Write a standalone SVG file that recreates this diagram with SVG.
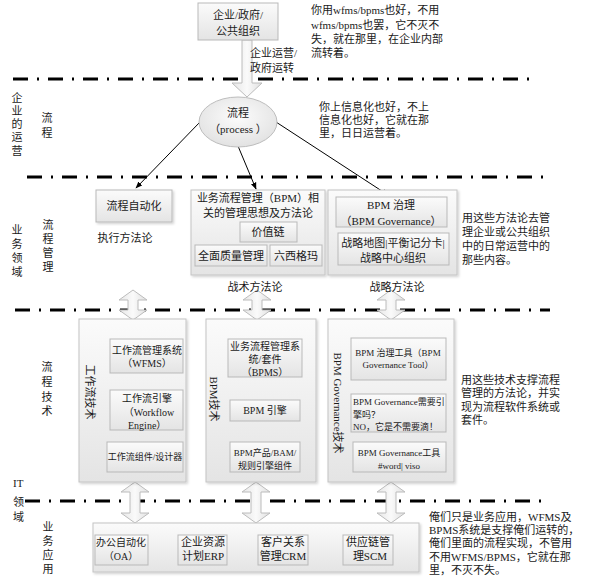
<svg xmlns="http://www.w3.org/2000/svg" width="590" height="583" viewBox="0 0 590 583">
<defs>
<linearGradient id="g" x1="0" y1="0" x2="0" y2="1"><stop offset="0" stop-color="#fbfbfb"/><stop offset="1" stop-color="#e4e4e4"/></linearGradient>
<linearGradient id="ga" x1="0" y1="0" x2="1" y2="0"><stop offset="0" stop-color="#e6e6e6"/><stop offset="0.5" stop-color="#fafafa"/><stop offset="1" stop-color="#e0e0e0"/></linearGradient>
<radialGradient id="ge" cx="0.5" cy="0.4" r="0.6"><stop offset="0" stop-color="#fcfcfc"/><stop offset="1" stop-color="#e2e2e2"/></radialGradient>
<filter id="sh" x="-5%" y="-5%" width="115%" height="115%"><feDropShadow dx="1.5" dy="1.5" stdDeviation="1" flood-color="#000" flood-opacity="0.18"/></filter>
<marker id="ah" viewBox="0 0 10 10" refX="9" refY="5" markerWidth="7" markerHeight="7" orient="auto"><path d="M0,1 L10,5 L0,9 Z" fill="#000"/></marker>
<style>
text{font-family:"Liberation Serif","Noto Sans CJK SC",serif;fill:#1a1a1a;font-size:11px}
.box{fill:url(#g);stroke:#b9b9b9;stroke-width:1}
.outer{fill:url(#g);stroke:#c4c4c4;stroke-width:1;filter:url(#sh)}
.dd{stroke:#000;stroke-width:3;stroke-dasharray:15 9 2 9;fill:none}
.c{text-anchor:middle}
.s{font-size:9px}
.m{font-size:10px}
.arr{fill:url(#ga);stroke:#bcbcbc;stroke-width:1}
.ln{stroke:#000;stroke-width:1;fill:none;marker-end:url(#ah)}
</style>
</defs>
<rect width="590" height="583" fill="#fff"/>

<g id="separators">
<line class="dd" x1="13" y1="79" x2="537" y2="79"/>
<line class="dd" x1="27" y1="177" x2="545" y2="177"/>
<line class="dd" x1="15" y1="310" x2="550" y2="310"/>
<line class="dd" x1="25" y1="501" x2="547" y2="501"/>
</g>

<g id="side-labels">
<text class="c" x="17"><tspan x="17" y="102">企</tspan><tspan x="17" y="115">业</tspan><tspan x="17" y="128">的</tspan><tspan x="17" y="141">运</tspan><tspan x="17" y="155">营</tspan></text>
<text class="c"><tspan x="47" y="122">流</tspan><tspan x="47" y="137">程</tspan></text>
<text class="c"><tspan x="17" y="234">业</tspan><tspan x="17" y="248">务</tspan><tspan x="17" y="262">领</tspan><tspan x="17" y="276">域</tspan></text>
<text class="c"><tspan x="48" y="229">流</tspan><tspan x="48" y="243">程</tspan><tspan x="48" y="257">管</tspan><tspan x="48" y="271">理</tspan></text>
<text class="c"><tspan x="47" y="371">流</tspan><tspan x="47" y="386">程</tspan><tspan x="47" y="401">技</tspan><tspan x="47" y="415">术</tspan></text>
<text><tspan x="13" y="487">IT</tspan><tspan x="13" y="506">领</tspan><tspan x="13" y="521">域</tspan></text>
<text class="c"><tspan x="48" y="531">业</tspan><tspan x="48" y="545">务</tspan><tspan x="48" y="559">应</tspan><tspan x="48" y="573">用</tspan></text>
</g>

<g id="connectors">
<path class="arr" d="M242,40 L252,40 L252,83 L262,83 L247,97 L232,83 L242,83 Z"/>
<line class="ln" x1="200" y1="122" x2="136" y2="188"/>
<line class="ln" x1="238" y1="146" x2="256" y2="189"/>
<line class="ln" x1="276" y1="122" x2="388" y2="195"/>
<path class="arr" d="M133,290 L147,300 L138,300 L138,310 L147,310 L133,320 L119,310 L128,310 L128,300 L119,300 Z"/>
<path class="arr" d="M257,290 L271,300 L262,300 L262,310 L271,310 L257,320 L243,310 L252,310 L252,300 L243,300 Z"/>
<path class="arr" d="M391,290 L405,300 L396,300 L396,310 L405,310 L391,320 L377,310 L386,310 L386,300 L377,300 Z"/>
<path class="arr" d="M135,482 L149,492 L140,492 L140,513 L149,513 L135,523 L121,513 L130,513 L130,492 L121,492 Z"/>
<path class="arr" d="M256,482 L270,492 L261,492 L261,513 L270,513 L256,523 L242,513 L251,513 L251,492 L242,492 Z"/>
<path class="arr" d="M391,482 L405,492 L396,492 L396,513 L405,513 L391,523 L377,513 L386,513 L386,492 L377,492 Z"/>
</g>

<g id="org">
<rect class="box" x="198" y="3" width="80" height="37"/>
<text class="c" x="238" y="19">企业/政府/</text>
<text class="c" x="238" y="35">公共组织</text>
</g>
<g id="org-label">
<text x="250" y="57">企业运营/</text>
<text x="250" y="72">政府运转</text>
</g>

<g id="process">
<ellipse cx="238" cy="122" rx="39" ry="25" fill="url(#ge)" stroke="#bdbdbd"/>
<text class="c" x="238" y="117">流程</text>
<text class="c" x="238" y="133">（process ）</text>
</g>

<g id="note-top">
<text x="311" y="14">你用wfms/bpms也好，不用</text>
<text x="311" y="29">wfms/bpms也罢，它不灭不</text>
<text x="311" y="43">失，就在那里，在企业内部</text>
<text x="311" y="57">流转着。</text>
</g>
<g id="note-process">
<text x="319" y="111">你上信息化也好，不上</text>
<text x="319" y="124">信息化也好，它就在那</text>
<text x="319" y="137">里，日日运营着。</text>
</g>

<g id="automation">
<rect class="box" x="96" y="190" width="76" height="32" style="filter:url(#sh)"/>
<text class="c" x="134" y="210">流程自动化</text>
<text class="c" x="125" y="242">执行方法论</text>
</g>

<g id="bpm-methods">
<rect class="outer" x="191" y="190" width="134" height="85"/>
<text class="c" x="258" y="202">业务流程管理（BPM）相</text>
<text class="c" x="258" y="217">关的管理思想及方法论</text>
<rect class="box" x="240" y="222" width="57" height="20"/>
<text class="c" x="268" y="236">价值链</text>
<rect class="box" x="195" y="245" width="72" height="21"/>
<text class="c" x="231" y="260">全面质量管理</text>
<rect class="box" x="270" y="245" width="52" height="21"/>
<text class="c" x="296" y="260">六西格玛</text>
<text class="c" x="255" y="291">战术方法论</text>
</g>

<g id="bpm-governance">
<rect class="outer" x="328" y="190" width="129" height="85"/>
<rect class="box" x="336" y="197" width="111" height="30"/>
<text class="c" x="391" y="209">BPM 治理</text>
<text class="c" x="391" y="225">（BPM Governance）</text>
<rect class="box" x="338" y="233" width="111" height="32"/>
<text class="c" x="393" y="247">战略地图|平衡记分卡|</text>
<text class="c" x="393" y="262">战略中心组织</text>
<text class="c" x="397" y="291">战略方法论</text>
</g>
<g id="note-methods">
<text x="462" y="222">用这些方法论去管</text>
<text x="462" y="236">理企业或公共组织</text>
<text x="462" y="250">中的日常运营中的</text>
<text x="462" y="264">那些内容。</text>
</g>

<g id="workflow-tech">
<rect class="outer" x="79" y="319" width="107" height="163"/>
<text class="c" transform="rotate(90 90 392)" x="90" y="396">工作流技术</text>
<rect class="box" x="110" y="339" width="73" height="34"/>
<text class="c m" x="147" y="354">工作流管理系统</text>
<text class="c m" x="147" y="367">（WFMS）</text>
<rect class="box" x="110" y="390" width="73" height="40"/>
<text class="c m" x="147" y="402">工作流引擎</text>
<text class="c m" x="149" y="416">（Workflow</text>
<text class="m" x="128" y="429">Engine）</text>
<rect class="box" x="107" y="442" width="76" height="30"/>
<text class="c s" x="145" y="460">工作流组件/设计器</text>
</g>

<g id="bpm-tech">
<rect class="outer" x="206" y="319" width="110" height="163"/>
<text class="c" transform="rotate(90 214 399)" x="214" y="403">BPM技术</text>
<rect class="box" x="228" y="339" width="74" height="38"/>
<text class="c m" x="265" y="350">业务流程管理系</text>
<text class="c m" x="265" y="363">统/套件</text>
<text class="c m" x="265" y="376">（BPMS）</text>
<rect class="box" x="230" y="400" width="70" height="21"/>
<text class="c m" x="265" y="414">BPM 引擎</text>
<rect class="box" x="230" y="442" width="70" height="30"/>
<text class="c s" x="265" y="456">BPM产品/BAM/</text>
<text class="c s" x="265" y="469">规则引擎组件</text>
</g>

<g id="governance-tech">
<rect class="outer" x="328" y="319" width="126" height="163"/>
<text class="c" transform="rotate(90 338 403)" x="338" y="407">BPM Governance技术</text>
<rect class="box" x="351" y="338" width="95" height="42"/>
<text class="c s" x="398" y="356">BPM 治理工具（BPM</text>
<text class="c s" x="398" y="368">Governance Tool）</text>
<rect class="box" x="351" y="394" width="95" height="38"/>
<text class="s" x="353" y="405">BPM Governance需要引</text>
<text class="s" x="353" y="418">擎吗？</text>
<text class="s" x="353" y="430">NO，它是不需要滴！</text>
<rect class="box" x="353" y="442" width="93" height="30"/>
<text class="c s" x="399" y="456">BPM Governance工具</text>
<text class="c s" x="399" y="469">#word| viso</text>
</g>
<g id="note-tech">
<text x="461" y="384">用这些技术支撑流程</text>
<text x="461" y="397">管理的方法论，并实</text>
<text x="461" y="411">现为流程软件系统或</text>
<text x="461" y="424">套件。</text>
</g>

<g id="business-apps">
<rect class="outer" x="93" y="523" width="326" height="49"/>
<rect class="box" x="95" y="535" width="53" height="30"/>
<text class="c m" x="121" y="546">办公自动化</text>
<text class="c m" x="121" y="560">（OA）</text>
<rect class="box" x="178" y="535" width="49" height="30"/>
<text class="c" x="203" y="546">企业资源</text>
<text class="c" x="203" y="560">计划ERP</text>
<rect class="box" x="258" y="535" width="50" height="30"/>
<text class="c" x="283" y="546">客户关系</text>
<text class="c" x="283" y="560">管理CRM</text>
<rect class="box" x="343" y="535" width="50" height="30"/>
<text class="c" x="368" y="546">供应链管</text>
<text class="c" x="370" y="560">理SCM</text>
</g>
<g id="note-apps">
<text x="429" y="521">俺们只是业务应用，WFMS及</text>
<text x="429" y="534">BPMS系统是支撑俺们运转的，</text>
<text x="429" y="547">俺们里面的流程实现，不管用</text>
<text x="429" y="561">不用WFMS/BPMS，它就在那</text>
<text x="429" y="574">里，不灭不失。</text>
</g>
</svg>
